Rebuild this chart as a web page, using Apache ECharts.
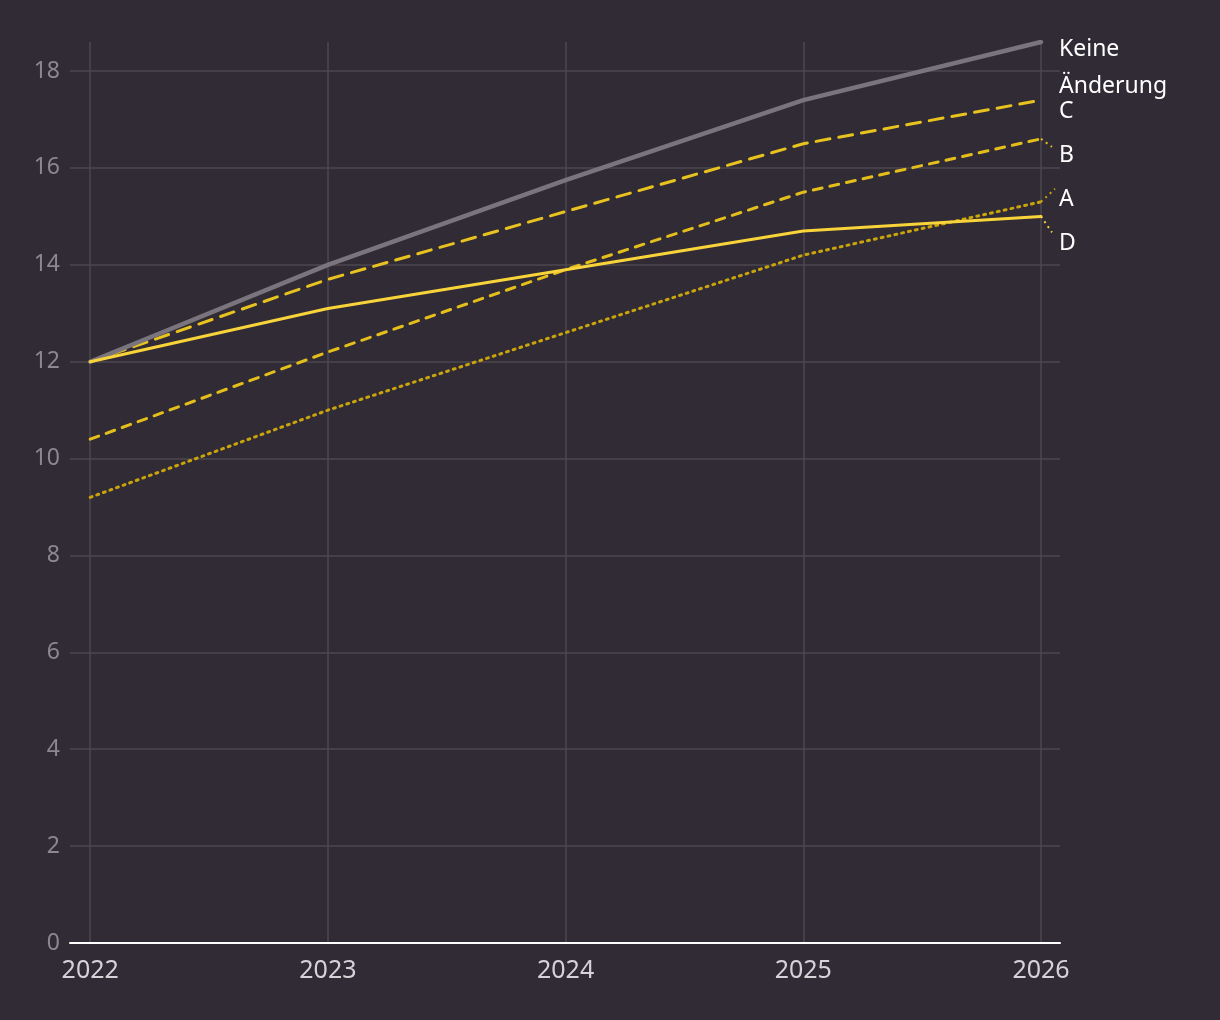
<!DOCTYPE html>
<html>
<head>
<meta charset="utf-8">
<script src="https://cdn.jsdelivr.net/npm/echarts@6/dist/echarts.min.js"></script>
<style>
  html, body { margin: 0; padding: 0; background: #302b34; }
  #chart { width: 1220px; height: 1020px; }
</style>
</head>
<body>
<div id="chart"></div>
<script>
const years = [2022, 2023, 2024, 2025, 2026];
const yTicks = [0, 2, 4, 6, 8, 10, 12, 14, 16, 18];

// scenario values per year
const keineAenderung = [12.0, 14.0, 15.75, 17.4, 18.6];
const szenarioC = [12.0, 13.7, 15.1, 16.5, 17.4];
const szenarioB = [10.4, 12.2, 13.9, 15.5, 16.6];
const szenarioA = [9.2, 11.0, 12.6, 14.2, 15.3];
const szenarioD = [12.0, 13.1, 13.9, 14.7, 15.0];

const labels = ["Keine\nÄnderung", "C", "B", "A", "D"];

const font = "'Noto Sans', sans-serif";

// style per series: colour, width, dash, z, label shift, leader line offset
const specs = [
    { name: "A", label: labels[3], values: szenarioA, color: "#c9a40c", width: 3, type: [2, 5], z: 2, dy: -2, leader: [14, -13] },
    { name: "B", label: labels[2], values: szenarioB, color: "#e4be1a", width: 3, type: [9, 8], z: 3, dy: 17, leader: [11, 8] },
    { name: "C", label: labels[1], values: szenarioC, color: "#e8c21e", width: 3, type: [14, 9], z: 4, dy: 11, leader: null },
    { name: "Keine Änderung", label: labels[0], values: keineAenderung, color: "#7a747c", width: 4.5, type: "solid", z: 5, dy: 26, leader: null },
    { name: "D", label: labels[4], values: szenarioD, color: "#f8d33a", width: 3, type: "solid", z: 6, dy: 27, leader: [11, 16] }
];

const makeSeries = s => ({
    name: s.name,
    type: "line",
    data: years.map((y, i) => [y, s.values[i]]),
    showSymbol: false,
    symbol: "none",
    z: s.z,
    lineStyle: { color: s.color, width: s.width, type: s.type, cap: "round" },
    endLabel: {
        show: true,
        formatter: () => s.label,
        color: "#ffffff",
        fontFamily: font,
        fontSize: 23,
        lineHeight: 37,
        distance: 18,
        offset: [0, s.dy]
    },
    emphasis: { disabled: true }
});

const chart = echarts.init(document.getElementById("chart"));

chart.setOption({
    backgroundColor: "#302b34",
    animation: false,
    grid: { left: 70, right: 160, top: 42, bottom: 77 },
    xAxis: {
        type: "value",
        min: 2021.915,
        max: 2026.08,
        axisLine: { show: true, lineStyle: { color: "#ffffff", width: 2 } },
        axisTick: { show: false, customValues: years },
        axisLabel: {
            customValues: years,
            formatter: v => String(v),
            color: "#d6d3d8",
            fontFamily: font,
            fontSize: 25,
            margin: 15
        },
        splitLine: { show: true, lineStyle: { color: "#4d484f", width: 1.5 } }
    },
    yAxis: {
        type: "value",
        min: 0,
        max: 18.6,
        interval: 2,
        axisLine: { show: false },
        axisTick: { show: false },
        axisLabel: {
            formatter: v => (yTicks.includes(v) ? String(v) : ""),
            color: "#8c8790",
            fontFamily: font,
            fontSize: 23,
            margin: 10
        },
        splitLine: {
            show: true,
            showMaxLine: false,
            lineStyle: { color: "#4d484f", width: 1.5 }
        }
    },
    series: specs.map(makeSeries)
});

// short dotted leader lines from the line ends towards the shifted labels
const zr = chart.getZr();
specs.forEach((s, idx) => {
    if (!s.leader) return;
    const last = years.length - 1;
    const p = chart.convertToPixel({ seriesIndex: idx }, [years[last], s.values[last]]);
    zr.add(new echarts.graphic.Line({
        z: 10,
        shape: { x1: p[0], y1: p[1], x2: p[0] + s.leader[0], y2: p[1] + s.leader[1] },
        style: { stroke: s.color, lineWidth: 2, lineDash: [2, 4] }
    }));
});
</script>
</body>
</html>
